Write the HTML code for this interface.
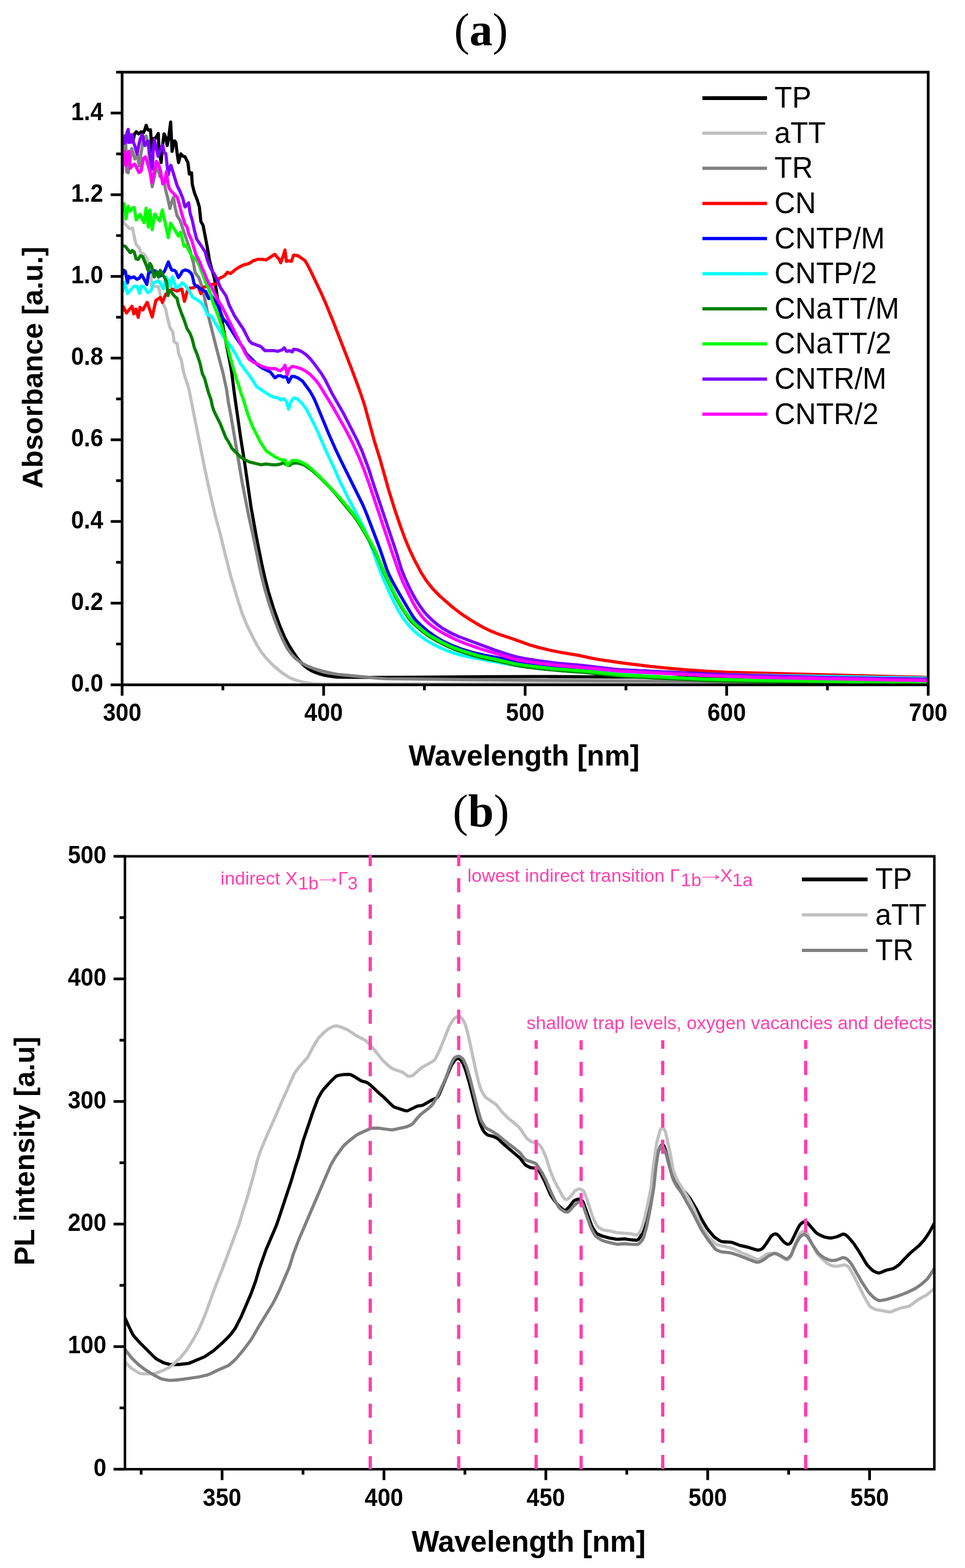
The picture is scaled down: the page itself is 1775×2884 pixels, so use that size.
<!DOCTYPE html>
<html><head><meta charset="utf-8"><title>Absorbance and PL spectra</title>
<style>html,body{margin:0;padding:0;background:#fff;} svg{display:block;}</style></head>
<body><svg width="1775" height="2884" viewBox="0 0 1775 2884">
<rect width="1775" height="2884" fill="#fff"/>
<clipPath id="ca"><rect x="224.6" y="112.8" width="1482.7" height="1146.8"/></clipPath>
<g clip-path="url(#ca)" fill="none" stroke-width="5.8" stroke-linejoin="round" stroke-linecap="round">
<path d="M224.6,261.0 L239.5,259.1 L244.8,256.4 L245.5,255.8 L247.2,246.9 L250.7,242.3 L255.1,246.3 L259.7,242.3 L264.3,243.6 L266.5,238.0 L268.8,230.3 L269.0,230.3 L271.0,237.0 L272.9,239.3 L276.7,238.6 L276.9,239.3 L279.3,277.8 L282.2,255.0 L286.0,254.2 L291.2,245.5 L292.3,274.5 L296.5,298.9 L298.5,272.0 L301.7,246.1 L305.0,253.1 L307.5,267.9 L310.4,252.4 L313.9,224.4 L316.5,278.4 L318.6,267.8 L321.0,259.1 L321.6,259.5 L323.4,261.9 L323.6,262.8 L325.5,279.7 L328.4,299.1 L332.6,283.0 L335.8,286.8 L340.4,288.5 L345.7,299.3 L348.3,320.1 L352.3,317.8 L353.6,338.7 L357.5,354.3 L363.0,368.2 L366.7,380.7 L369.5,407.5 L373.5,414.4 L381.3,454.7 L385.3,478.4 L389.2,493.9 L394.5,512.2 L400.0,547.7 L404.0,568.3 L407.7,583.9 L410.6,602.7 L424.4,674.4 L426.5,687.2 L430.8,721.9 L442.5,804.1 L449.6,848.6 L461.9,933.7 L472.4,991.8 L481.4,1036.9 L487.1,1062.3 L493.5,1087.5 L502.9,1118.1 L513.9,1149.2 L523.1,1171.3 L527.7,1180.2 L533.7,1190.6 L540.1,1200.7 L546.4,1209.7 L551.4,1215.9 L556.1,1221.1 L561.2,1225.8 L566.7,1230.0 L572.7,1233.5 L579.0,1236.4 L586.5,1239.1 L594.2,1241.3 L603.0,1243.2 L611.9,1244.5 L620.8,1245.4 L629.8,1245.7 L701.8,1246.0 L894.8,1244.6 L1000.9,1244.4 L1400.9,1247.0 L1704.2,1248.0" stroke="#000000"/>
<path d="M224.6,396.0 L227.8,409.6 L228.3,410.5 L238.2,420.4 L239.0,420.6 L243.8,419.5 L247.9,440.1 L250.5,449.7 L255.8,455.7 L258.2,463.3 L258.7,464.1 L266.3,468.8 L270.7,476.7 L271.8,484.6 L277.3,503.8 L279.0,525.7 L291.7,527.6 L295.5,545.1 L299.4,557.5 L304.7,568.3 L307.2,581.0 L312.6,602.4 L317.9,610.8 L320.4,628.6 L321.1,629.3 L325.5,631.5 L325.9,632.3 L328.5,650.1 L333.7,663.1 L337.7,684.7 L341.8,698.1 L347.0,713.3 L376.5,861.4 L385.7,904.4 L396.4,950.2 L405.4,982.9 L412.3,1012.1 L424.1,1058.7 L438.1,1105.6 L446.2,1130.3 L453.4,1147.9 L463.7,1169.6 L473.1,1187.2 L481.1,1199.8 L491.9,1213.0 L503.8,1225.1 L516.8,1236.0 L529.1,1244.4 L534.4,1247.2 L540.8,1249.8 L549.4,1252.5 L559.1,1255.0 L573.9,1257.4 L590.8,1258.2 L1003.9,1257.2 L1704.2,1257.6" stroke="#c0c0c0"/>
<path d="M224.6,300.0 L227.0,262.1 L229.2,249.3 L231.2,261.4 L233.2,316.4 L235.9,317.7 L242.4,273.2 L247.9,292.5 L252.9,285.0 L253.2,285.3 L255.8,305.5 L263.6,256.1 L264.1,255.2 L268.9,250.4 L272.9,265.9 L278.2,331.7 L280.1,343.5 L286.0,315.4 L290.0,307.4 L294.1,324.3 L301.9,332.2 L304.8,349.9 L308.7,365.4 L312.5,383.0 L312.7,383.4 L315.3,372.7 L319.2,362.6 L322.0,381.4 L325.8,396.9 L331.2,405.3 L349.4,459.4 L352.6,473.0 L355.8,483.5 L358.9,501.2 L359.2,502.2 L365.5,510.0 L370.8,525.0 L375.9,546.4 L381.0,571.9 L398.0,639.9 L410.2,686.3 L416.8,716.5 L420.1,740.3 L424.8,764.8 L445.4,887.1 L457.1,947.0 L466.6,990.0 L476.8,1040.0 L482.0,1063.4 L487.2,1083.7 L495.1,1110.6 L504.1,1137.1 L512.7,1159.5 L521.6,1179.6 L528.6,1192.9 L535.5,1202.6 L543.7,1211.2 L553.2,1218.5 L564.5,1224.7 L577.5,1229.9 L593.8,1234.6 L612.3,1238.8 L621.2,1240.3 L632.1,1241.5 L694.8,1247.4 L709.8,1248.3 L852.8,1250.0 L1373.9,1254.3 L1704.2,1256.0" stroke="#808080"/>
<path d="M224.6,572.0 L227.0,564.4 L232.6,575.8 L242.8,563.2 L246.1,577.4 L250.1,568.3 L254.2,583.8 L257.5,565.1 L262.1,570.2 L262.7,570.2 L270.6,556.3 L271.0,556.4 L279.9,583.0 L286.6,552.8 L294.8,547.1 L298.8,556.3 L304.5,541.8 L305.1,541.0 L310.9,537.1 L316.8,531.7 L317.6,531.7 L324.8,535.2 L325.7,535.3 L333.9,531.6 L334.5,531.8 L339.3,554.3 L344.4,535.5 L349.8,529.7 L354.7,529.5 L364.0,525.9 L369.6,540.1 L373.3,528.7 L379.0,527.0 L384.4,524.4 L389.2,523.2 L394.2,523.2 L399.6,520.6 L402.8,512.4 L412.7,507.5 L418.4,500.7 L423.8,503.2 L428.7,499.7 L431.5,496.8 L439.8,491.3 L447.9,487.4 L458.5,484.5 L466.0,479.5 L474.6,476.9 L481.6,476.9 L489.5,478.1 L505.3,467.8 L506.0,468.0 L509.6,472.8 L513.8,477.1 L516.4,483.3 L520.2,473.1 L524.2,459.8 L526.9,480.6 L530.5,479.6 L536.2,480.6 L540.0,469.2 L540.8,469.0 L548.6,470.7 L560.9,479.2 L566.5,488.6 L572.3,500.2 L590.8,539.1 L599.3,558.3 L612.5,590.7 L647.0,679.2 L658.2,709.2 L665.5,729.9 L670.8,746.1 L687.9,808.8 L699.4,846.0 L715.1,901.9 L726.4,938.2 L736.4,967.5 L745.4,991.9 L753.5,1011.3 L762.9,1031.1 L774.7,1053.2 L784.3,1068.3 L795.5,1082.4 L809.4,1096.6 L832.7,1117.0 L849.4,1129.8 L862.8,1138.5 L879.0,1148.4 L890.3,1154.7 L900.2,1159.5 L915.9,1165.9 L942.4,1174.7 L974.4,1186.2 L990.7,1190.9 L1014.0,1196.5 L1032.7,1200.2 L1064.2,1205.4 L1089.5,1210.9 L1103.3,1213.4 L1144.9,1219.4 L1197.5,1225.8 L1237.3,1229.8 L1264.2,1232.1 L1300.1,1234.6 L1337.1,1236.5 L1702.2,1245.9" stroke="#ff0000"/>
<path d="M224.6,505.0 L225.4,504.5 L228.1,497.1 L230.3,499.1 L230.7,499.9 L234.6,520.4 L236.4,508.6 L236.8,508.3 L239.7,511.1 L240.5,511.2 L246.1,509.1 L251.5,513.4 L252.3,513.6 L256.0,512.0 L260.4,505.4 L260.9,505.7 L270.2,523.2 L273.2,502.4 L273.8,501.7 L277.4,500.0 L284.1,498.0 L285.0,498.2 L289.4,500.5 L295.4,507.3 L296.0,507.0 L300.5,501.6 L303.3,497.4 L309.7,481.7 L312.9,490.4 L316.0,496.7 L316.7,497.1 L320.7,497.1 L323.6,499.8 L328.2,510.4 L332.3,504.7 L335.5,498.6 L341.0,496.4 L346.7,498.2 L351.2,502.1 L353.9,507.5 L356.8,521.2 L359.7,525.3 L364.1,527.5 L368.7,531.4 L378.5,536.3 L383.8,549.2 L384.4,549.2 L389.3,544.4 L399.9,560.2 L410.3,586.2 L415.8,592.0 L434.0,620.7 L439.6,629.0 L447.3,639.4 L452.8,650.1 L474.0,671.3 L482.3,676.8 L497.5,684.5 L505.4,694.8 L506.2,694.8 L511.0,691.2 L516.0,691.2 L521.4,693.7 L526.3,692.7 L527.0,692.8 L530.8,703.1 L536.3,692.5 L541.3,692.5 L547.8,695.0 L556.1,700.6 L569.2,718.3 L573.9,726.0 L577.6,733.0 L581.6,742.1 L604.9,798.6 L616.2,824.2 L626.5,845.9 L667.3,928.4 L674.6,945.9 L695.3,1000.1 L701.7,1018.0 L711.5,1047.4 L716.2,1058.4 L722.1,1069.9 L732.9,1089.1 L755.7,1127.9 L760.0,1134.6 L764.2,1140.1 L774.0,1150.0 L787.7,1161.6 L803.2,1172.5 L816.1,1180.0 L834.3,1188.3 L849.3,1193.9 L870.3,1200.3 L889.8,1204.8 L940.9,1214.6 L954.7,1216.9 L1026.2,1225.5 L1060.1,1228.6 L1074.1,1229.4 L1115.1,1230.7 L1296.9,1239.3 L1377.9,1242.4 L1520.9,1246.0 L1703.4,1249.4" stroke="#0000ff"/>
<path d="M224.6,536.0 L225.3,536.2 L229.2,519.6 L234.5,540.1 L246.0,526.9 L246.8,526.5 L251.8,526.5 L256.6,539.6 L260.5,525.9 L264.1,527.1 L264.9,527.7 L271.3,537.8 L272.0,538.2 L277.9,534.5 L282.1,520.2 L288.8,517.9 L291.3,516.4 L292.0,516.7 L295.5,521.6 L300.3,531.1 L305.2,509.9 L309.9,516.4 L313.9,526.9 L317.0,509.1 L320.0,517.3 L323.5,529.6 L329.0,527.2 L334.9,520.5 L335.7,520.6 L340.3,524.4 L345.8,531.6 L349.5,537.5 L353.5,545.6 L357.4,548.6 L360.2,549.7 L363.6,551.9 L370.6,557.5 L376.2,565.8 L381.5,578.7 L389.0,581.3 L389.6,582.0 L394.5,591.9 L410.5,618.4 L426.6,640.1 L434.4,653.0 L442.5,669.1 L458.1,689.8 L465.6,700.5 L471.6,710.8 L494.9,726.4 L503.0,730.3 L510.9,731.7 L516.5,735.6 L521.0,733.4 L521.8,733.3 L526.8,738.3 L530.8,752.7 L534.8,739.7 L539.8,732.2 L540.5,731.8 L548.1,734.5 L555.9,742.2 L563.6,752.7 L578.7,782.0 L583.4,791.9 L598.1,825.9 L614.2,860.3 L625.0,885.0 L641.1,917.2 L662.6,957.9 L670.6,974.0 L677.9,991.5 L686.6,1015.0 L695.8,1041.4 L704.4,1062.8 L717.5,1093.0 L725.1,1108.2 L732.2,1121.5 L739.3,1133.5 L744.9,1141.7 L753.1,1151.8 L761.5,1160.3 L770.6,1168.0 L782.7,1176.8 L793.0,1183.0 L805.4,1189.4 L815.4,1193.9 L827.5,1198.7 L837.9,1202.3 L846.5,1204.7 L865.1,1208.8 L932.0,1221.2 L954.6,1225.0 L992.4,1229.6 L1061.1,1236.0 L1073.0,1236.3 L1096.9,1234.6 L1108.9,1234.5 L1201.9,1238.0 L1307.9,1240.6 L1703.4,1247.2" stroke="#00ffff"/>
<path d="M224.6,451.0 L225.3,451.7 L230.1,453.0 L230.9,453.5 L239.5,464.6 L240.1,464.6 L243.2,460.7 L247.0,463.7 L250.3,476.3 L254.0,477.2 L258.1,470.6 L258.8,470.4 L262.4,472.1 L270.1,490.5 L272.6,497.7 L275.6,485.0 L275.9,484.7 L279.0,489.8 L283.6,509.3 L283.9,509.4 L287.7,500.5 L291.6,509.7 L294.8,497.3 L298.7,505.0 L302.7,510.7 L305.9,517.0 L307.5,527.8 L309.0,543.8 L311.4,534.5 L314.2,535.1 L314.9,535.7 L317.9,540.9 L321.7,545.6 L325.6,548.6 L328.2,560.3 L333.9,576.4 L339.0,589.4 L344.1,604.6 L349.5,613.0 L353.4,623.2 L357.6,639.7 L362.9,652.7 L368.1,668.9 L372.2,687.4 L376.2,695.5 L383.9,723.5 L388.1,734.7 L390.9,748.4 L394.8,758.7 L405.1,779.3 L415.6,805.3 L421.0,813.7 L426.4,824.4 L442.0,840.0 L450.3,845.5 L458.3,849.5 L479.7,854.8 L489.6,853.4 L500.5,854.8 L508.5,854.8 L516.4,853.4 L521.7,850.9 L526.5,854.5 L532.3,856.1 L537.9,852.1 L545.9,851.4 L553.7,853.1 L561.1,856.1 L574.2,865.3 L584.7,874.5 L605.2,894.9 L616.0,906.8 L649.1,946.9 L655.6,955.7 L661.7,964.9 L678.4,993.3 L688.8,1012.7 L693.9,1023.6 L705.8,1052.2 L726.3,1095.6 L737.5,1115.7 L750.1,1134.9 L755.0,1141.2 L759.7,1146.3 L775.3,1160.2 L788.1,1169.8 L803.6,1178.9 L819.6,1187.1 L834.2,1193.7 L845.4,1197.8 L870.2,1205.7 L885.6,1209.9 L917.9,1216.5 L949.1,1223.7 L968.9,1226.8 L999.6,1230.6 L1028.5,1233.4 L1073.4,1236.6 L1135.1,1243.2 L1158.0,1244.7 L1302.9,1251.8 L1381.9,1253.5 L1525.0,1255.7 L1703.4,1259.8" stroke="#008000"/>
<path d="M224.6,388.0 L228.3,374.7 L231.9,402.5 L235.7,379.4 L239.9,388.3 L242.9,383.1 L246.5,381.4 L246.9,381.8 L250.5,404.6 L257.6,394.2 L264.8,409.6 L268.7,382.9 L272.8,417.7 L275.7,386.2 L279.9,422.5 L284.7,393.8 L285.0,393.5 L289.2,400.3 L293.9,406.5 L298.5,386.2 L303.9,409.6 L309.5,437.1 L313.7,410.5 L320.0,420.0 L327.8,433.9 L332.0,427.0 L338.4,452.2 L338.8,452.9 L342.7,452.1 L343.3,452.7 L352.1,469.5 L363.1,481.1 L367.0,489.2 L378.6,520.1 L382.5,528.2 L386.5,538.5 L392.0,557.7 L402.4,583.7 L407.8,599.8 L418.2,636.4 L423.9,658.7 L434.3,695.2 L439.5,710.4 L443.5,723.8 L447.7,735.0 L455.4,760.9 L463.6,782.4 L479.3,813.7 L489.8,829.5 L505.6,840.1 L513.6,844.1 L520.1,846.7 L523.9,845.6 L524.4,846.1 L528.0,855.5 L528.4,855.9 L537.7,846.8 L544.7,846.8 L553.3,849.5 L561.3,853.5 L565.4,856.3 L575.5,864.5 L587.1,875.4 L606.6,895.6 L624.9,915.4 L644.2,938.4 L654.0,951.0 L662.9,964.3 L673.6,982.4 L683.9,1000.7 L690.7,1014.0 L704.6,1047.2 L724.2,1088.8 L734.6,1108.2 L745.1,1125.2 L754.5,1138.1 L763.4,1147.4 L781.0,1162.2 L787.4,1166.8 L795.1,1171.6 L814.4,1182.1 L833.4,1190.9 L850.4,1196.9 L880.0,1206.0 L918.1,1214.1 L942.4,1219.8 L953.2,1222.0 L985.9,1226.5 L1019.7,1230.1 L1072.6,1234.0 L1143.2,1241.3 L1294.0,1249.0 L1380.0,1251.0 L1525.0,1253.2 L1703.4,1257.3" stroke="#00ff00"/>
<path d="M224.6,265.0 L226.0,253.1 L227.5,263.8 L229.5,251.3 L231.6,262.5 L233.4,244.6 L235.8,238.0 L237.5,262.0 L239.5,247.8 L241.5,261.7 L243.2,247.6 L245.4,261.5 L248.5,269.9 L252.2,283.4 L255.0,267.8 L258.0,255.2 L261.5,248.0 L261.8,248.0 L266.4,267.4 L266.7,267.6 L269.4,262.3 L272.1,259.4 L272.4,260.0 L277.9,299.6 L280.2,310.6 L282.0,274.7 L283.9,256.8 L290.8,287.5 L295.2,274.6 L299.2,266.6 L302.0,280.4 L305.0,283.0 L309.3,321.7 L311.7,311.5 L314.1,303.9 L314.4,304.1 L325.8,341.4 L331.1,352.1 L336.4,365.1 L340.3,380.6 L340.7,380.7 L344.3,375.8 L347.0,373.2 L349.7,392.0 L353.7,405.5 L357.5,423.1 L361.7,439.5 L377.2,462.8 L381.4,478.3 L385.6,489.5 L389.3,496.6 L394.7,505.0 L399.7,514.8 L405.3,528.7 L415.9,544.5 L421.3,560.6 L431.5,581.2 L447.6,605.4 L458.5,626.7 L463.5,631.6 L479.6,637.2 L487.3,644.9 L503.3,644.9 L511.2,646.1 L518.8,643.5 L522.4,640.1 L523.1,639.9 L526.7,645.8 L527.5,646.1 L532.3,645.0 L537.6,647.3 L539.8,642.8 L540.4,642.3 L548.3,643.6 L555.5,647.2 L559.6,649.9 L563.7,652.9 L567.9,657.1 L571.4,660.7 L578.2,669.3 L591.7,687.9 L597.9,698.1 L611.4,724.9 L631.8,760.4 L656.4,808.5 L665.5,828.5 L678.8,864.1 L686.2,888.0 L728.4,1014.1 L738.0,1045.7 L743.8,1060.6 L752.0,1078.8 L758.3,1091.3 L765.2,1103.5 L772.2,1114.4 L778.7,1123.3 L785.8,1131.6 L795.1,1140.7 L804.2,1148.5 L813.0,1154.9 L827.7,1163.5 L843.1,1170.6 L910.6,1195.7 L938.1,1204.9 L951.6,1208.5 L967.3,1211.5 L995.0,1215.9 L1028.7,1220.2 L1071.5,1224.0 L1128.2,1230.7 L1143.1,1232.1 L1294.9,1239.8 L1380.9,1242.5 L1514.9,1245.9 L1703.4,1248.9" stroke="#8000ff"/>
<path d="M224.6,320.0 L225.3,317.1 L226.6,286.1 L229.3,278.2 L231.9,304.1 L234.5,283.7 L237.0,278.3 L239.8,309.4 L243.9,304.2 L247.3,302.0 L248.0,302.0 L255.5,317.3 L256.2,317.2 L259.5,315.0 L263.6,291.4 L267.6,288.5 L275.7,315.3 L279.5,335.9 L287.7,296.7 L291.3,301.5 L295.4,314.9 L299.4,338.5 L303.3,333.1 L306.1,315.5 L308.7,336.3 L311.5,346.9 L315.0,351.7 L325.6,362.3 L326.0,363.2 L329.8,375.7 L333.7,391.2 L340.2,412.2 L344.2,417.9 L346.9,429.6 L352.4,441.4 L360.1,467.3 L368.1,483.4 L371.9,493.7 L376.0,501.7 L380.2,513.0 L383.8,520.1 L389.3,528.5 L402.3,554.4 L407.7,562.8 L452.5,652.2 L458.0,660.5 L466.3,666.1 L482.4,674.2 L490.0,676.6 L497.9,677.9 L505.9,678.0 L511.2,680.7 L516.1,681.8 L521.7,676.4 L524.3,671.7 L528.3,689.4 L532.2,678.0 L536.9,674.4 L537.8,674.0 L545.7,675.4 L553.3,677.9 L561.3,682.0 L569.4,687.8 L579.3,697.6 L586.7,706.9 L612.8,749.5 L634.9,788.7 L648.3,814.4 L659.8,839.9 L669.2,863.0 L679.1,890.3 L721.6,1017.4 L734.7,1055.2 L740.4,1069.0 L753.7,1097.0 L759.1,1107.7 L764.0,1116.4 L771.7,1128.0 L777.7,1135.9 L783.1,1141.7 L789.1,1147.0 L797.8,1153.7 L806.9,1159.8 L818.2,1166.3 L834.2,1174.4 L845.1,1179.4 L858.1,1184.5 L881.7,1192.8 L941.9,1211.2 L953.5,1214.1 L968.3,1216.6 L993.0,1220.1 L1025.8,1223.9 L1071.7,1227.8 L1142.3,1234.7 L1303.1,1242.7 L1390.1,1245.9 L1703.4,1251.9" stroke="#ff00ff"/>
</g>
<clipPath id="cb"><rect x="229.8" y="1575.0" width="1488.8" height="1127.3"/></clipPath>
<g clip-path="url(#cb)" fill="none" stroke-width="5.8" stroke-linejoin="round" stroke-linecap="round">
<path d="M230.4,2425.1 L236.5,2438.8 L243.1,2452.3 L245.1,2455.7 L248.2,2459.6 L257.6,2470.0 L285.2,2497.5 L290.1,2500.9 L301.6,2506.8 L311.3,2509.4 L316.2,2510.0 L331.2,2509.5 L347.0,2507.7 L376.5,2495.4 L393.0,2484.1 L409.5,2469.5 L421.5,2457.5 L425.4,2453.0 L432.5,2443.3 L443.5,2422.0 L462.0,2378.8 L470.6,2355.3 L477.0,2333.3 L489.4,2298.4 L508.2,2254.2 L510.6,2247.6 L535.5,2172.7 L542.6,2148.7 L549.1,2128.7 L557.7,2097.9 L575.7,2044.8 L584.4,2021.4 L591.2,2009.2 L594.6,2004.3 L608.0,1989.4 L615.8,1981.7 L618.8,1979.3 L622.5,1978.0 L632.3,1976.3 L641.3,1976.1 L645.1,1976.7 L650.4,1979.3 L663.9,1987.8 L666.7,1988.8 L673.4,1990.3 L677.6,1992.7 L684.5,1998.4 L694.5,2008.2 L705.1,2017.4 L721.5,2033.5 L724.5,2036.0 L744.3,2042.5 L747.1,2043.1 L749.9,2043.0 L765.9,2035.2 L768.7,2034.3 L775.6,2033.3 L778.4,2032.4 L793.9,2023.4 L803.0,2019.3 L805.2,2017.6 L807.6,2013.4 L830.4,1959.1 L836.6,1950.0 L839.6,1947.7 L842.2,1946.8 L843.8,1947.0 L845.3,1947.8 L848.1,1950.4 L849.9,1952.8 L851.7,1956.3 L856.5,1968.4 L863.5,1992.4 L876.4,2043.8 L882.4,2065.0 L885.4,2072.4 L888.5,2078.6 L890.7,2081.9 L894.1,2085.5 L896.4,2087.2 L899.1,2088.2 L907.8,2090.4 L914.0,2093.4 L917.3,2095.7 L927.4,2105.3 L954.8,2128.6 L957.6,2131.5 L964.9,2141.0 L967.7,2143.6 L975.7,2147.6 L982.5,2148.4 L985.2,2149.2 L987.7,2150.7 L991.5,2153.9 L994.3,2157.9 L1001.6,2172.2 L1012.0,2196.0 L1014.9,2201.2 L1020.0,2208.6 L1027.1,2217.0 L1030.6,2220.5 L1036.7,2225.5 L1039.0,2226.4 L1040.4,2225.9 L1041.8,2224.9 L1047.4,2219.2 L1054.6,2209.7 L1057.7,2207.4 L1062.3,2205.8 L1065.0,2205.5 L1067.6,2206.3 L1070.0,2208.0 L1071.9,2210.1 L1073.3,2212.7 L1087.4,2252.2 L1090.4,2258.5 L1095.2,2266.1 L1097.1,2268.3 L1100.3,2270.4 L1108.6,2273.8 L1121.2,2277.1 L1133.0,2279.2 L1137.0,2279.3 L1148.9,2278.6 L1161.7,2280.5 L1169.6,2281.2 L1172.3,2280.8 L1173.8,2280.0 L1178.0,2274.6 L1180.6,2269.3 L1186.4,2248.1 L1194.9,2200.8 L1204.3,2152.7 L1209.9,2121.2 L1214.0,2110.0 L1216.2,2106.8 L1218.8,2105.1 L1219.8,2105.5 L1220.7,2106.8 L1224.1,2115.0 L1230.9,2143.2 L1236.9,2161.2 L1239.3,2166.7 L1246.5,2180.9 L1249.7,2184.6 L1260.6,2193.3 L1269.7,2205.1 L1280.1,2222.2 L1291.6,2244.5 L1299.3,2257.3 L1302.8,2262.1 L1313.6,2275.2 L1322.7,2281.3 L1327.1,2283.5 L1330.0,2284.0 L1342.9,2284.7 L1346.8,2285.3 L1360.8,2290.6 L1377.4,2294.4 L1391.7,2298.9 L1395.4,2299.3 L1400.0,2297.9 L1403.2,2295.7 L1409.8,2286.9 L1418.5,2273.6 L1422.3,2270.6 L1425.0,2269.6 L1426.7,2269.4 L1429.1,2270.2 L1432.8,2273.4 L1440.3,2282.7 L1443.1,2285.5 L1447.2,2288.1 L1448.9,2288.7 L1450.5,2288.6 L1453.6,2286.7 L1455.9,2283.6 L1467.6,2259.3 L1471.0,2253.3 L1473.8,2250.5 L1476.9,2248.1 L1479.4,2247.1 L1481.2,2247.2 L1483.8,2248.2 L1486.0,2250.0 L1499.8,2265.8 L1502.7,2268.5 L1507.8,2271.4 L1516.0,2275.1 L1524.8,2276.8 L1529.7,2277.0 L1540.3,2274.5 L1549.3,2270.3 L1551.0,2269.8 L1553.6,2270.3 L1556.9,2272.2 L1561.2,2276.3 L1570.2,2287.0 L1579.1,2300.3 L1593.0,2323.5 L1595.9,2327.5 L1602.8,2334.7 L1605.8,2337.3 L1612.9,2340.7 L1616.6,2341.5 L1619.3,2340.8 L1629.4,2336.5 L1642.9,2333.2 L1648.9,2329.7 L1653.7,2326.2 L1664.6,2314.5 L1674.4,2304.6 L1690.5,2291.0 L1699.2,2281.4 L1702.8,2276.6 L1710.5,2264.9 L1718.1,2250.9" stroke="#000000"/>
<path d="M230.7,2506.0 L242.2,2517.1 L254.1,2524.4 L257.7,2526.1 L263.5,2526.8 L280.5,2526.8 L285.4,2526.3 L299.4,2521.0 L311.9,2514.7 L316.0,2511.9 L331.4,2497.7 L342.7,2483.7 L346.6,2477.9 L357.1,2460.9 L366.2,2444.2 L377.3,2418.5 L394.2,2371.5 L411.1,2328.6 L439.7,2251.8 L446.5,2228.8 L454.1,2205.0 L466.2,2162.6 L473.1,2135.5 L478.5,2118.3 L489.3,2092.5 L502.7,2062.3 L516.1,2031.1 L540.7,1976.3 L543.5,1971.1 L552.2,1960.1 L565.6,1945.3 L576.2,1925.0 L583.4,1913.0 L586.2,1908.9 L595.4,1899.6 L604.6,1892.0 L612.6,1888.0 L617.2,1886.8 L620.1,1887.1 L626.8,1888.9 L637.9,1893.5 L641.4,1895.4 L654.6,1904.3 L662.5,1908.7 L671.4,1913.0 L675.2,1916.2 L682.8,1924.1 L691.2,1934.0 L702.3,1948.2 L710.8,1956.7 L717.6,1962.5 L720.8,1964.8 L723.4,1966.2 L739.5,1971.7 L742.8,1973.8 L749.1,1978.6 L750.7,1979.4 L753.4,1979.7 L757.2,1978.9 L759.8,1977.7 L768.6,1969.6 L776.3,1963.3 L795.5,1952.5 L799.2,1949.5 L801.8,1945.3 L807.4,1934.7 L825.8,1889.2 L828.9,1883.0 L834.3,1874.7 L837.9,1871.4 L841.3,1869.5 L843.0,1869.0 L844.6,1869.3 L847.0,1870.6 L849.8,1873.3 L851.5,1875.8 L855.5,1883.8 L857.2,1888.4 L861.9,1906.9 L876.2,1973.4 L880.7,1991.8 L882.4,1997.6 L885.6,2006.0 L889.5,2012.9 L892.3,2017.0 L894.4,2019.1 L912.4,2031.5 L915.1,2034.5 L923.0,2044.8 L932.1,2054.1 L937.2,2058.8 L948.2,2067.4 L954.0,2073.0 L957.3,2076.7 L967.9,2092.5 L970.5,2095.4 L974.5,2098.2 L978.9,2100.5 L985.6,2101.9 L988.3,2102.9 L991.3,2105.3 L995.3,2109.6 L997.8,2113.9 L1004.0,2127.6 L1011.2,2150.5 L1019.6,2171.9 L1034.8,2200.0 L1038.3,2204.7 L1039.8,2205.8 L1041.3,2206.3 L1042.9,2206.0 L1045.3,2204.6 L1049.7,2200.7 L1056.8,2191.1 L1059.1,2189.3 L1062.6,2187.5 L1065.3,2186.9 L1068.0,2187.3 L1071.5,2189.0 L1073.6,2190.9 L1075.3,2194.3 L1079.7,2206.5 L1089.4,2236.0 L1092.0,2242.4 L1096.9,2252.3 L1099.1,2255.5 L1102.1,2258.0 L1108.0,2261.7 L1110.8,2262.6 L1121.6,2264.2 L1135.3,2267.3 L1160.2,2269.1 L1169.6,2271.5 L1171.4,2271.3 L1172.9,2270.5 L1175.7,2267.9 L1177.5,2265.6 L1179.5,2261.1 L1185.0,2244.0 L1191.3,2215.7 L1197.4,2185.3 L1201.4,2146.5 L1208.1,2101.0 L1214.2,2078.8 L1216.3,2075.7 L1217.6,2074.7 L1218.9,2074.3 L1220.1,2074.9 L1221.6,2077.0 L1223.4,2080.5 L1224.7,2084.3 L1233.8,2126.3 L1237.5,2149.0 L1238.9,2153.8 L1244.6,2168.7 L1247.5,2174.0 L1264.2,2200.1 L1267.7,2206.1 L1276.8,2223.9 L1289.0,2252.4 L1291.2,2256.9 L1304.1,2275.9 L1313.9,2285.9 L1317.0,2288.3 L1323.5,2290.5 L1346.8,2295.8 L1363.0,2303.6 L1378.8,2310.0 L1393.1,2316.8 L1394.8,2316.9 L1397.3,2316.0 L1405.2,2310.1 L1411.2,2306.6 L1415.0,2305.4 L1420.9,2304.9 L1423.7,2305.2 L1426.5,2306.2 L1436.3,2311.1 L1445.7,2316.7 L1448.1,2317.2 L1449.5,2316.7 L1450.9,2315.5 L1453.5,2312.5 L1455.0,2310.0 L1462.9,2287.4 L1470.0,2270.9 L1471.7,2268.6 L1474.8,2266.2 L1477.3,2264.9 L1479.7,2264.9 L1483.5,2267.5 L1485.9,2270.6 L1493.2,2287.0 L1502.8,2305.6 L1511.7,2315.0 L1521.4,2323.6 L1526.5,2326.7 L1534.0,2329.1 L1536.9,2329.2 L1541.9,2328.7 L1553.4,2326.4 L1557.0,2327.5 L1560.8,2330.5 L1563.0,2333.7 L1571.0,2347.6 L1591.6,2388.7 L1598.7,2400.8 L1600.5,2403.0 L1602.8,2404.8 L1609.0,2407.9 L1612.8,2409.1 L1624.6,2411.0 L1634.4,2413.0 L1637.3,2413.2 L1640.1,2412.5 L1649.2,2408.6 L1657.7,2405.5 L1671.3,2402.9 L1674.7,2401.0 L1689.9,2389.7 L1704.8,2381.5 L1717.9,2370.7" stroke="#c0c0c0"/>
<path d="M230.6,2482.9 L240.4,2495.5 L245.2,2500.7 L255.2,2510.4 L267.2,2519.4 L283.4,2529.4 L295.0,2535.3 L299.6,2536.9 L309.5,2538.6 L314.4,2538.8 L326.4,2538.0 L338.3,2536.7 L366.0,2532.5 L381.6,2528.9 L386.2,2527.1 L401.5,2519.6 L419.0,2512.2 L422.2,2510.0 L429.0,2504.1 L434.7,2498.5 L448.3,2482.4 L462.5,2463.1 L476.5,2438.9 L500.6,2399.7 L504.5,2392.7 L513.3,2374.7 L531.0,2333.4 L533.1,2327.8 L539.5,2306.7 L549.4,2280.5 L607.3,2145.3 L610.0,2140.0 L617.7,2127.1 L628.8,2111.7 L632.5,2107.0 L640.6,2099.6 L654.7,2088.5 L659.9,2085.5 L680.8,2075.9 L685.6,2075.1 L695.6,2074.8 L718.4,2078.0 L722.3,2078.1 L747.6,2072.7 L754.9,2069.5 L759.1,2066.9 L767.9,2056.1 L773.5,2050.4 L777.9,2046.4 L788.4,2038.7 L794.0,2033.1 L797.1,2029.2 L804.3,2017.2 L817.6,1988.1 L820.8,1980.8 L828.3,1960.1 L833.0,1950.2 L834.5,1947.6 L836.5,1945.5 L839.8,1943.6 L842.5,1942.7 L844.2,1942.8 L845.9,1943.5 L849.2,1945.6 L851.3,1947.6 L853.3,1950.9 L858.1,1961.9 L864.9,1984.9 L878.0,2037.3 L883.8,2057.5 L886.0,2063.0 L892.4,2073.1 L895.3,2075.6 L904.1,2080.3 L915.9,2087.8 L929.6,2099.4 L947.2,2112.6 L956.4,2120.3 L964.4,2130.5 L966.4,2132.6 L969.8,2134.4 L984.0,2139.3 L987.0,2141.5 L996.9,2156.5 L1004.1,2170.8 L1012.7,2191.0 L1020.4,2207.3 L1027.8,2220.3 L1031.1,2223.9 L1038.6,2228.6 L1041.4,2229.2 L1044.2,2229.0 L1045.9,2228.3 L1047.3,2227.2 L1055.2,2218.2 L1061.8,2212.3 L1063.5,2211.6 L1066.3,2211.3 L1069.0,2211.7 L1070.3,2212.6 L1072.0,2215.8 L1086.2,2256.4 L1089.6,2263.6 L1093.5,2270.6 L1095.7,2273.7 L1099.7,2276.7 L1108.2,2281.8 L1113.9,2283.6 L1134.3,2288.5 L1137.2,2288.5 L1148.1,2287.5 L1161.1,2288.7 L1170.0,2288.9 L1172.9,2288.6 L1175.4,2287.5 L1178.1,2284.8 L1181.8,2280.1 L1183.9,2275.7 L1189.4,2256.4 L1196.3,2222.1 L1202.7,2183.6 L1206.2,2149.8 L1210.7,2118.2 L1211.5,2115.3 L1212.8,2112.7 L1216.0,2107.9 L1217.6,2106.9 L1218.6,2107.5 L1219.5,2108.9 L1224.2,2118.7 L1236.7,2165.1 L1238.4,2169.7 L1242.9,2178.7 L1245.5,2182.9 L1253.8,2194.2 L1256.4,2198.5 L1276.3,2234.4 L1288.9,2259.4 L1291.9,2264.6 L1302.4,2280.4 L1307.2,2286.7 L1315.4,2296.8 L1317.6,2298.7 L1320.2,2300.1 L1327.7,2302.7 L1341.6,2304.0 L1346.5,2305.1 L1360.7,2309.8 L1388.6,2320.8 L1392.3,2321.7 L1396.1,2321.2 L1401.6,2318.9 L1404.9,2316.8 L1413.6,2310.2 L1419.9,2307.1 L1424.5,2305.4 L1426.3,2305.4 L1429.0,2306.2 L1436.1,2309.7 L1443.8,2314.3 L1445.5,2315.1 L1447.1,2315.2 L1448.7,2314.7 L1451.0,2313.0 L1455.0,2308.8 L1463.2,2289.5 L1470.5,2276.4 L1472.5,2274.3 L1476.3,2271.3 L1477.9,2270.6 L1479.5,2270.6 L1482.7,2272.3 L1486.1,2275.8 L1495.5,2291.1 L1505.0,2305.1 L1508.7,2308.4 L1516.0,2313.6 L1525.2,2317.5 L1530.0,2318.6 L1538.8,2317.6 L1549.7,2313.2 L1551.6,2313.2 L1554.4,2313.9 L1558.6,2316.2 L1562.7,2320.5 L1566.4,2325.2 L1586.9,2360.7 L1597.5,2376.5 L1602.2,2381.6 L1608.7,2387.8 L1613.7,2390.9 L1617.4,2392.1 L1621.2,2391.8 L1630.1,2390.2 L1649.2,2384.4 L1658.7,2381.1 L1669.8,2376.7 L1684.2,2369.7 L1695.5,2361.5 L1705.2,2352.8 L1708.8,2348.1 L1718.1,2333.9" stroke="#808080"/>
</g>
<text x="884.70" y="82.60" font-family="Liberation Serif, sans-serif" font-size="85" font-weight="bold" text-anchor="middle" fill="#000" ><tspan font-weight="normal">(</tspan>a<tspan font-weight="normal">)</tspan></text>
<text x="884.70" y="1520.30" font-family="Liberation Serif, sans-serif" font-size="85" font-weight="bold" text-anchor="middle" fill="#000" ><tspan font-weight="normal">(</tspan>b<tspan font-weight="normal">)</tspan></text>
<rect x="224.60" y="132.78" width="1482.70" height="1126.82" fill="none" stroke="#000" stroke-width="5.0"/>
<line x1="203.60" y1="1259.60" x2="224.60" y2="1259.60" stroke="#000" stroke-width="5.0" />
<line x1="213.60" y1="1184.48" x2="224.60" y2="1184.48" stroke="#000" stroke-width="5.0" />
<line x1="203.60" y1="1109.36" x2="224.60" y2="1109.36" stroke="#000" stroke-width="5.0" />
<line x1="213.60" y1="1034.24" x2="224.60" y2="1034.24" stroke="#000" stroke-width="5.0" />
<line x1="203.60" y1="959.11" x2="224.60" y2="959.11" stroke="#000" stroke-width="5.0" />
<line x1="213.60" y1="883.99" x2="224.60" y2="883.99" stroke="#000" stroke-width="5.0" />
<line x1="203.60" y1="808.87" x2="224.60" y2="808.87" stroke="#000" stroke-width="5.0" />
<line x1="213.60" y1="733.75" x2="224.60" y2="733.75" stroke="#000" stroke-width="5.0" />
<line x1="203.60" y1="658.63" x2="224.60" y2="658.63" stroke="#000" stroke-width="5.0" />
<line x1="213.60" y1="583.51" x2="224.60" y2="583.51" stroke="#000" stroke-width="5.0" />
<line x1="203.60" y1="508.39" x2="224.60" y2="508.39" stroke="#000" stroke-width="5.0" />
<line x1="213.60" y1="433.26" x2="224.60" y2="433.26" stroke="#000" stroke-width="5.0" />
<line x1="203.60" y1="358.14" x2="224.60" y2="358.14" stroke="#000" stroke-width="5.0" />
<line x1="213.60" y1="283.02" x2="224.60" y2="283.02" stroke="#000" stroke-width="5.0" />
<line x1="203.60" y1="207.90" x2="224.60" y2="207.90" stroke="#000" stroke-width="5.0" />
<line x1="213.60" y1="132.78" x2="224.60" y2="132.78" stroke="#000" stroke-width="5.0" />
<line x1="224.60" y1="1259.60" x2="224.60" y2="1279.60" stroke="#000" stroke-width="5.0" />
<line x1="409.94" y1="1259.60" x2="409.94" y2="1269.60" stroke="#000" stroke-width="5.0" />
<line x1="595.27" y1="1259.60" x2="595.27" y2="1279.60" stroke="#000" stroke-width="5.0" />
<line x1="780.61" y1="1259.60" x2="780.61" y2="1269.60" stroke="#000" stroke-width="5.0" />
<line x1="965.95" y1="1259.60" x2="965.95" y2="1279.60" stroke="#000" stroke-width="5.0" />
<line x1="1151.29" y1="1259.60" x2="1151.29" y2="1269.60" stroke="#000" stroke-width="5.0" />
<line x1="1336.62" y1="1259.60" x2="1336.62" y2="1279.60" stroke="#000" stroke-width="5.0" />
<line x1="1521.96" y1="1259.60" x2="1521.96" y2="1269.60" stroke="#000" stroke-width="5.0" />
<line x1="1707.30" y1="1259.60" x2="1707.30" y2="1279.60" stroke="#000" stroke-width="5.0" />
<text transform="translate(189.80,1272.20) scale(1.0,1.075)" font-family="Liberation Sans, sans-serif" font-size="42.5" font-weight="bold" text-anchor="end" fill="#000" >0.0</text>
<text transform="translate(189.80,1121.96) scale(1.0,1.075)" font-family="Liberation Sans, sans-serif" font-size="42.5" font-weight="bold" text-anchor="end" fill="#000" >0.2</text>
<text transform="translate(189.80,971.71) scale(1.0,1.075)" font-family="Liberation Sans, sans-serif" font-size="42.5" font-weight="bold" text-anchor="end" fill="#000" >0.4</text>
<text transform="translate(189.80,821.47) scale(1.0,1.075)" font-family="Liberation Sans, sans-serif" font-size="42.5" font-weight="bold" text-anchor="end" fill="#000" >0.6</text>
<text transform="translate(189.80,671.23) scale(1.0,1.075)" font-family="Liberation Sans, sans-serif" font-size="42.5" font-weight="bold" text-anchor="end" fill="#000" >0.8</text>
<text transform="translate(189.80,520.99) scale(1.0,1.075)" font-family="Liberation Sans, sans-serif" font-size="42.5" font-weight="bold" text-anchor="end" fill="#000" >1.0</text>
<text transform="translate(189.80,370.74) scale(1.0,1.075)" font-family="Liberation Sans, sans-serif" font-size="42.5" font-weight="bold" text-anchor="end" fill="#000" >1.2</text>
<text transform="translate(189.80,220.50) scale(1.0,1.075)" font-family="Liberation Sans, sans-serif" font-size="42.5" font-weight="bold" text-anchor="end" fill="#000" >1.4</text>
<text transform="translate(224.60,1326.00) scale(1.0,1.075)" font-family="Liberation Sans, sans-serif" font-size="42.5" font-weight="bold" text-anchor="middle" fill="#000" >300</text>
<text transform="translate(595.27,1326.00) scale(1.0,1.075)" font-family="Liberation Sans, sans-serif" font-size="42.5" font-weight="bold" text-anchor="middle" fill="#000" >400</text>
<text transform="translate(965.95,1326.00) scale(1.0,1.075)" font-family="Liberation Sans, sans-serif" font-size="42.5" font-weight="bold" text-anchor="middle" fill="#000" >500</text>
<text transform="translate(1336.62,1326.00) scale(1.0,1.075)" font-family="Liberation Sans, sans-serif" font-size="42.5" font-weight="bold" text-anchor="middle" fill="#000" >600</text>
<text transform="translate(1707.30,1326.00) scale(1.0,1.075)" font-family="Liberation Sans, sans-serif" font-size="42.5" font-weight="bold" text-anchor="middle" fill="#000" >700</text>
<text transform="translate(964.00,1407.60) scale(1.0,1.02)" font-family="Liberation Sans, sans-serif" font-size="53.0" font-weight="bold" text-anchor="middle" fill="#000" >Wavelength [nm]</text>
<text x="0.00" y="0.00" font-family="Liberation Sans, sans-serif" font-size="52.7" font-weight="bold" text-anchor="middle" fill="#000" transform="translate(77.5,676) rotate(-90)">Absorbance [a.u.]</text>
<rect x="229.85" y="1575.00" width="1488.75" height="1127.30" fill="none" stroke="#000" stroke-width="4.6"/>
<line x1="208.85" y1="2702.30" x2="229.85" y2="2702.30" stroke="#000" stroke-width="5.0" />
<line x1="219.85" y1="2589.57" x2="229.85" y2="2589.57" stroke="#000" stroke-width="5.0" />
<line x1="208.85" y1="2476.84" x2="229.85" y2="2476.84" stroke="#000" stroke-width="5.0" />
<line x1="219.85" y1="2364.11" x2="229.85" y2="2364.11" stroke="#000" stroke-width="5.0" />
<line x1="208.85" y1="2251.38" x2="229.85" y2="2251.38" stroke="#000" stroke-width="5.0" />
<line x1="219.85" y1="2138.65" x2="229.85" y2="2138.65" stroke="#000" stroke-width="5.0" />
<line x1="208.85" y1="2025.92" x2="229.85" y2="2025.92" stroke="#000" stroke-width="5.0" />
<line x1="219.85" y1="1913.19" x2="229.85" y2="1913.19" stroke="#000" stroke-width="5.0" />
<line x1="208.85" y1="1800.46" x2="229.85" y2="1800.46" stroke="#000" stroke-width="5.0" />
<line x1="219.85" y1="1687.73" x2="229.85" y2="1687.73" stroke="#000" stroke-width="5.0" />
<line x1="208.85" y1="1575.00" x2="229.85" y2="1575.00" stroke="#000" stroke-width="5.0" />
<line x1="259.62" y1="2702.30" x2="259.62" y2="2712.30" stroke="#000" stroke-width="5.0" />
<line x1="408.50" y1="2702.30" x2="408.50" y2="2722.30" stroke="#000" stroke-width="5.0" />
<line x1="557.38" y1="2702.30" x2="557.38" y2="2712.30" stroke="#000" stroke-width="5.0" />
<line x1="706.25" y1="2702.30" x2="706.25" y2="2722.30" stroke="#000" stroke-width="5.0" />
<line x1="855.12" y1="2702.30" x2="855.12" y2="2712.30" stroke="#000" stroke-width="5.0" />
<line x1="1004.00" y1="2702.30" x2="1004.00" y2="2722.30" stroke="#000" stroke-width="5.0" />
<line x1="1152.88" y1="2702.30" x2="1152.88" y2="2712.30" stroke="#000" stroke-width="5.0" />
<line x1="1301.75" y1="2702.30" x2="1301.75" y2="2722.30" stroke="#000" stroke-width="5.0" />
<line x1="1450.62" y1="2702.30" x2="1450.62" y2="2712.30" stroke="#000" stroke-width="5.0" />
<line x1="1599.50" y1="2702.30" x2="1599.50" y2="2722.30" stroke="#000" stroke-width="5.0" />
<text transform="translate(195.60,2714.90) scale(1.0,1.075)" font-family="Liberation Sans, sans-serif" font-size="42.5" font-weight="bold" text-anchor="end" fill="#000" >0</text>
<text transform="translate(195.60,2489.44) scale(1.0,1.075)" font-family="Liberation Sans, sans-serif" font-size="42.5" font-weight="bold" text-anchor="end" fill="#000" >100</text>
<text transform="translate(195.60,2263.98) scale(1.0,1.075)" font-family="Liberation Sans, sans-serif" font-size="42.5" font-weight="bold" text-anchor="end" fill="#000" >200</text>
<text transform="translate(195.60,2038.52) scale(1.0,1.075)" font-family="Liberation Sans, sans-serif" font-size="42.5" font-weight="bold" text-anchor="end" fill="#000" >300</text>
<text transform="translate(195.60,1813.06) scale(1.0,1.075)" font-family="Liberation Sans, sans-serif" font-size="42.5" font-weight="bold" text-anchor="end" fill="#000" >400</text>
<text transform="translate(195.60,1587.60) scale(1.0,1.075)" font-family="Liberation Sans, sans-serif" font-size="42.5" font-weight="bold" text-anchor="end" fill="#000" >500</text>
<text transform="translate(408.50,2770.00) scale(1.0,1.075)" font-family="Liberation Sans, sans-serif" font-size="42.5" font-weight="bold" text-anchor="middle" fill="#000" >350</text>
<text transform="translate(706.25,2770.00) scale(1.0,1.075)" font-family="Liberation Sans, sans-serif" font-size="42.5" font-weight="bold" text-anchor="middle" fill="#000" >400</text>
<text transform="translate(1004.00,2770.00) scale(1.0,1.075)" font-family="Liberation Sans, sans-serif" font-size="42.5" font-weight="bold" text-anchor="middle" fill="#000" >450</text>
<text transform="translate(1301.75,2770.00) scale(1.0,1.075)" font-family="Liberation Sans, sans-serif" font-size="42.5" font-weight="bold" text-anchor="middle" fill="#000" >500</text>
<text transform="translate(1599.50,2770.00) scale(1.0,1.075)" font-family="Liberation Sans, sans-serif" font-size="42.5" font-weight="bold" text-anchor="middle" fill="#000" >550</text>
<text transform="translate(972.40,2854.00) scale(1.0,1.02)" font-family="Liberation Sans, sans-serif" font-size="53.7" font-weight="bold" text-anchor="middle" fill="#000" >Wavelength [nm]</text>
<text x="0.00" y="0.00" font-family="Liberation Sans, sans-serif" font-size="52.4" font-weight="bold" text-anchor="middle" fill="#000" transform="translate(63,2117) rotate(-90)">PL intensity [a.u]</text>
<line x1="681.00" y1="1571.80" x2="681.00" y2="2702.60" stroke="#ff3fae" stroke-width="6" stroke-dasharray="26 22.32" stroke-dashoffset="4.8"/>
<line x1="843.70" y1="1571.80" x2="843.70" y2="2702.60" stroke="#ff3fae" stroke-width="6" stroke-dasharray="26 22.32" stroke-dashoffset="4.8"/>
<line x1="986.20" y1="1913.20" x2="986.20" y2="2702.60" stroke="#ff3fae" stroke-width="6" stroke-dasharray="26 22.32" stroke-dashoffset="10.2"/>
<line x1="1068.90" y1="1913.20" x2="1068.90" y2="2702.60" stroke="#ff3fae" stroke-width="6" stroke-dasharray="26 22.32" stroke-dashoffset="8.5"/>
<line x1="1219.00" y1="1913.20" x2="1219.00" y2="2702.60" stroke="#ff3fae" stroke-width="6" stroke-dasharray="26 22.32" stroke-dashoffset="10.2"/>
<line x1="1482.00" y1="1913.20" x2="1482.00" y2="2702.60" stroke="#ff3fae" stroke-width="6" stroke-dasharray="26 22.32" stroke-dashoffset="10.2"/>
<text x="405.60" y="1626.60" font-family="Liberation Sans, sans-serif" font-size="34.0" fill="#ff3fae" >indirect X</text>
<text x="548.60" y="1636.40" font-family="Liberation Sans, sans-serif" font-size="33.7" fill="#ff3fae" >1b</text>
<text transform="translate(577.74,1624.09) scale(1.549,1)" font-family="Liberation Sans, sans-serif" font-size="33.7" fill="#ff3fae">→</text>
<text x="621.80" y="1626.60" font-family="Liberation Sans, sans-serif" font-size="33.7" fill="#ff3fae" >Γ</text>
<text x="639.30" y="1636.40" font-family="Liberation Sans, sans-serif" font-size="33.7" fill="#ff3fae" >3</text>
<text x="859.70" y="1622.00" font-family="Liberation Sans, sans-serif" font-size="34.0" fill="#ff3fae" >lowest indirect transition Γ</text>
<text x="1252.30" y="1629.60" font-family="Liberation Sans, sans-serif" font-size="34.0" fill="#ff3fae" >1b</text>
<text transform="translate(1281.20,1619.14) scale(1.570,1)" font-family="Liberation Sans, sans-serif" font-size="34.0" fill="#ff3fae">→</text>
<text x="1324.80" y="1622.00" font-family="Liberation Sans, sans-serif" font-size="34.0" fill="#ff3fae" >X</text>
<text x="1346.80" y="1629.60" font-family="Liberation Sans, sans-serif" font-size="34.0" fill="#ff3fae" >1a</text>
<text x="968.60" y="1892.70" font-family="Liberation Sans, sans-serif" font-size="33.75" fill="#ff3fae" >shallow trap levels, oxygen vacancies and defects</text>
<line x1="1292.00" y1="180.40" x2="1410.80" y2="180.40" stroke="#000000" stroke-width="7" />
<text transform="translate(1424.60,198.20) scale(1.0,1.035)" font-family="Liberation Sans, sans-serif" font-size="53" font-weight="normal" text-anchor="start" fill="#000" >TP</text>
<line x1="1292.00" y1="245.00" x2="1410.80" y2="245.00" stroke="#c0c0c0" stroke-width="6" />
<text transform="translate(1424.60,262.80) scale(1.0,1.035)" font-family="Liberation Sans, sans-serif" font-size="53" font-weight="normal" text-anchor="start" fill="#000" >aTT</text>
<line x1="1292.00" y1="309.60" x2="1410.80" y2="309.60" stroke="#808080" stroke-width="6" />
<text transform="translate(1424.60,327.40) scale(1.0,1.035)" font-family="Liberation Sans, sans-serif" font-size="53" font-weight="normal" text-anchor="start" fill="#000" >TR</text>
<line x1="1292.00" y1="374.20" x2="1410.80" y2="374.20" stroke="#ff0000" stroke-width="6" />
<text transform="translate(1424.60,392.00) scale(1.0,1.035)" font-family="Liberation Sans, sans-serif" font-size="53" font-weight="normal" text-anchor="start" fill="#000" >CN</text>
<line x1="1292.00" y1="438.80" x2="1410.80" y2="438.80" stroke="#0000ff" stroke-width="6" />
<text transform="translate(1424.60,456.60) scale(1.0,1.035)" font-family="Liberation Sans, sans-serif" font-size="53" font-weight="normal" text-anchor="start" fill="#000" >CNTP/M</text>
<line x1="1292.00" y1="503.40" x2="1410.80" y2="503.40" stroke="#00ffff" stroke-width="6" />
<text transform="translate(1424.60,521.20) scale(1.0,1.035)" font-family="Liberation Sans, sans-serif" font-size="53" font-weight="normal" text-anchor="start" fill="#000" >CNTP/2</text>
<line x1="1292.00" y1="568.00" x2="1410.80" y2="568.00" stroke="#008000" stroke-width="6" />
<text transform="translate(1424.60,585.80) scale(1.0,1.035)" font-family="Liberation Sans, sans-serif" font-size="53" font-weight="normal" text-anchor="start" fill="#000" >CNaTT/M</text>
<line x1="1292.00" y1="632.60" x2="1410.80" y2="632.60" stroke="#00ff00" stroke-width="6" />
<text transform="translate(1424.60,650.40) scale(1.0,1.035)" font-family="Liberation Sans, sans-serif" font-size="53" font-weight="normal" text-anchor="start" fill="#000" >CNaTT/2</text>
<line x1="1292.00" y1="697.20" x2="1410.80" y2="697.20" stroke="#8000ff" stroke-width="6" />
<text transform="translate(1424.60,715.00) scale(1.0,1.035)" font-family="Liberation Sans, sans-serif" font-size="53" font-weight="normal" text-anchor="start" fill="#000" >CNTR/M</text>
<line x1="1292.00" y1="761.80" x2="1410.80" y2="761.80" stroke="#ff00ff" stroke-width="6" />
<text transform="translate(1424.60,779.60) scale(1.0,1.035)" font-family="Liberation Sans, sans-serif" font-size="53" font-weight="normal" text-anchor="start" fill="#000" >CNTR/2</text>
<line x1="1475.00" y1="1617.50" x2="1595.80" y2="1617.50" stroke="#000000" stroke-width="7" />
<text transform="translate(1610.00,1635.30) scale(1.0,1.035)" font-family="Liberation Sans, sans-serif" font-size="53" font-weight="normal" text-anchor="start" fill="#000" >TP</text>
<line x1="1475.00" y1="1682.70" x2="1595.80" y2="1682.70" stroke="#c0c0c0" stroke-width="6" />
<text transform="translate(1610.00,1700.50) scale(1.0,1.035)" font-family="Liberation Sans, sans-serif" font-size="53" font-weight="normal" text-anchor="start" fill="#000" >aTT</text>
<line x1="1475.00" y1="1747.90" x2="1595.80" y2="1747.90" stroke="#808080" stroke-width="6" />
<text transform="translate(1610.00,1765.70) scale(1.0,1.035)" font-family="Liberation Sans, sans-serif" font-size="53" font-weight="normal" text-anchor="start" fill="#000" >TR</text>
</svg></body></html>
